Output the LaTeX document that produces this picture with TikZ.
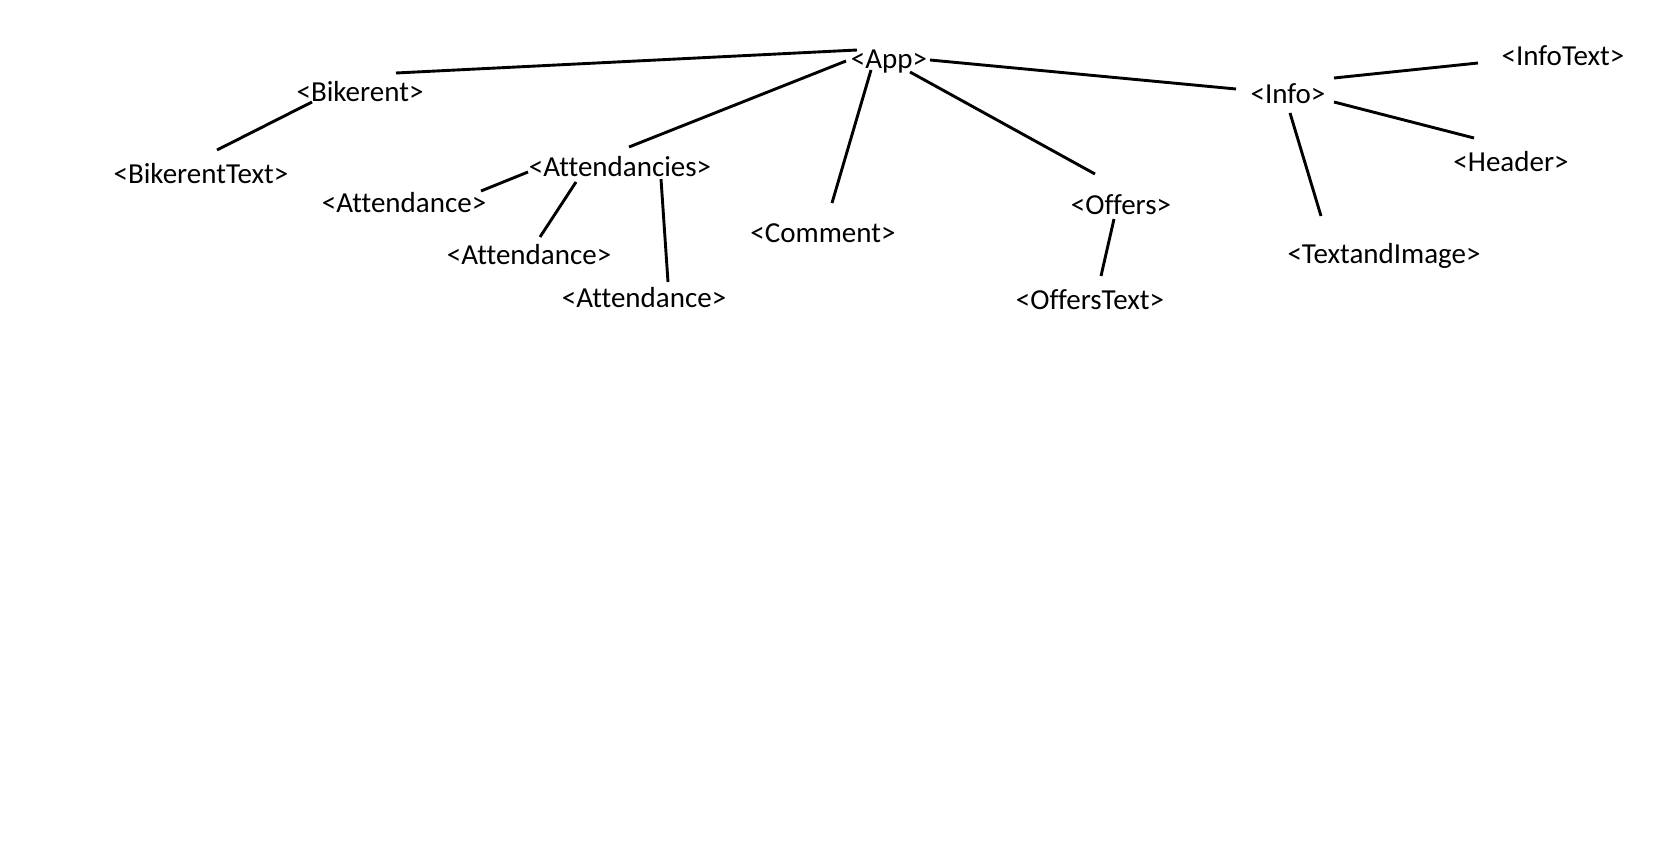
\documentclass[tikz,border=0pt]{standalone}
\usepackage{fontspec}
\newfontfamily\carlito[Ligatures=CommonOff]{Carlito}

\begin{document}
\begin{tikzpicture}[x=1pt,y=-1pt]
        \tikzset{every node/.style={font={\carlito\fontsize{29}{35}\selectfont},
                inner sep=0pt, text height=20pt, text depth=2pt},
            branch/.style={draw, line width=2.9pt}}
        \useasboundingbox (0,0) rectangle (1665,867);
        % tags
        \node (app) at (889,59) {<App>};
        \node (bikerent) at (360,92) {<Bikerent>};
        \node (bikerenttext) at (201,174) {<BikerentText>};
        \node (attendancies) at (620,167) {<Attendancies>};
        \node (att1) at (404,203) {<Attendance>};
        \node (att2) at (529,255) {<Attendance>};
        \node (att3) at (644,298) {<Attendance>};
        \node (comment) at (823,233) {<Comment>};
        \node (offers) at (1121,205) {<Offers>};
        \node (offerstext) at (1090,300) {<OffersText>};
        \node (info) at (1288,94) {<Info>};
        \node (infotext) at (1563,57) {<InfoText>};
        \node (header) at (1511,162) {<Header>};
        \node (textimage) at (1384,254) {<TextandImage>};
        % branches
        \draw[branch] ([shift={(-32,-9)}]app.center) -- ([shift={(36,-19)}]bikerent.center);
        \draw[branch] ([shift={(-43,2)}]app.center) -- ([shift={(9,-20)}]attendancies.center);
        \draw[branch] ([shift={(-18,11)}]app.center) -- ([shift={(9,-30)}]comment.center);
        \draw[branch] ([shift={(21,13)}]app.center) -- ([shift={(-26,-31)}]offers.center);
        \draw[branch] ([shift={(41,1)}]app.center) -- ([shift={(-52,-5)}]info.center);
        \draw[branch] ([shift={(46,-16)}]info.center) -- ([shift={(-85,6)}]infotext.center);
        \draw[branch] ([shift={(46,8)}]info.center) -- ([shift={(-37,-24)}]header.center);
        \draw[branch] ([shift={(2,19)}]info.center) -- ([shift={(-63,-38)}]textimage.center);
        \draw[branch] ([shift={(-7,14)}]offers.center) -- ([shift={(11,-24)}]offerstext.center);
        \draw[branch] ([shift={(-48,10)}]bikerent.center) -- ([shift={(16,-24)}]bikerenttext.center);
        \draw[branch] ([shift={(-92,5)}]attendancies.center) -- ([shift={(77,-12)}]att1.center);
        \draw[branch] ([shift={(-44,15)}]attendancies.center) -- ([shift={(11,-18)}]att2.center);
        \draw[branch] ([shift={(41,12)}]attendancies.center) -- ([shift={(24,-16)}]att3.center);
    \end{tikzpicture}
\end{document}
